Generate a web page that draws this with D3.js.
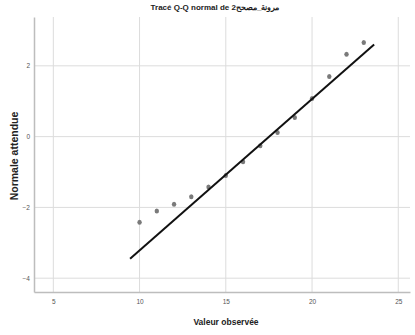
<!DOCTYPE html>
<html>
<head>
<meta charset="utf-8">
<script src="https://cdn.jsdelivr.net/npm/d3@7"></script>
<style>
  body { margin: 0; background: #fff; }
  svg { display: block; font-family: "Liberation Sans", Arial, sans-serif; }
</style>
</head>
<body>
<div id="chart"></div>
<script>
// Données
const observed = [10, 11, 12, 13, 14, 15, 16, 17, 18, 19, 20, 21, 22, 23];
const expected = [-2.42, -2.10, -1.91, -1.70, -1.42, -1.10, -0.71, -0.26, 0.12, 0.54, 1.08, 1.70, 2.33, 2.66];
const refLineX = [9.45, 23.6];
const refLineY = [-3.45, 2.60];
const xTicks = [5, 10, 15, 20, 25];
const yTicks = [-4, -2, 0, 2];

const W = 415, H = 335;
const m = { top: 17, right: 5, bottom: 43, left: 34 };

const svg = d3.select("#chart").append("svg").attr("width", W).attr("height", H);

const x = d3.scaleLinear().domain([3.88, 25.68]).range([m.left, W - m.right]);
const y = d3.scaleLinear().domain([-4.39, 3.38]).range([H - m.bottom, m.top]);

// grille
svg.append("g").selectAll("line").data(xTicks).join("line")
    .attr("x1", d => x(d)).attr("x2", d => x(d))
    .attr("y1", m.top).attr("y2", H - m.bottom)
    .attr("stroke", "#dcdcdc").attr("stroke-width", 1);
svg.append("g").selectAll("line").data(yTicks).join("line")
    .attr("x1", m.left).attr("x2", W - m.right)
    .attr("y1", d => y(d)).attr("y2", d => y(d))
    .attr("stroke", "#dcdcdc").attr("stroke-width", 1);

// axes
const xAxis = svg.append("g").attr("transform", `translate(0,${H - m.bottom})`)
    .call(d3.axisBottom(x).tickValues(xTicks).tickSize(0).tickPadding(7));
const yAxis = svg.append("g").attr("transform", `translate(${m.left},0)`)
    .call(d3.axisLeft(y).tickValues(yTicks).tickSize(0).tickPadding(4).tickFormat(d3.format("d")));
[xAxis, yAxis].forEach(a => {
    a.select(".domain").attr("stroke", "#bdbdbd").attr("stroke-width", 1.5);
    a.selectAll("text").attr("fill", "#555").style("font-size", "6.5px");
});

// points
svg.append("g").selectAll("ellipse").data(observed).join("ellipse")
    .attr("cx", (d, i) => x(d)).attr("cy", (d, i) => y(expected[i]))
    .attr("rx", 2.2).attr("ry", 2.5).attr("fill", "#7a7a7a");

// droite de référence
svg.append("line")
    .attr("x1", x(refLineX[0])).attr("y1", y(refLineY[0]))
    .attr("x2", x(refLineX[1])).attr("y2", y(refLineY[1]))
    .attr("stroke", "#111").attr("stroke-width", 2);

// titres
svg.append("text").attr("x", 215).attr("y", 10).attr("text-anchor", "middle")
    .style("font-size", "8px").style("font-weight", "bold").attr("fill", "#222")
    .text("Tracé Q-Q normal de مرونة_مصحح2");
svg.append("text").attr("x", 226).attr("y", 325).attr("text-anchor", "middle")
    .style("font-size", "8.5px").style("font-weight", "bold").attr("fill", "#222")
    .text("Valeur observée");
svg.append("text").attr("transform", `translate(18,156) rotate(-90)`)
    .attr("text-anchor", "middle")
    .style("font-size", "10.5px").style("font-weight", "bold").attr("fill", "#222")
    .text("Normale attendue");
</script>
</body>
</html>
